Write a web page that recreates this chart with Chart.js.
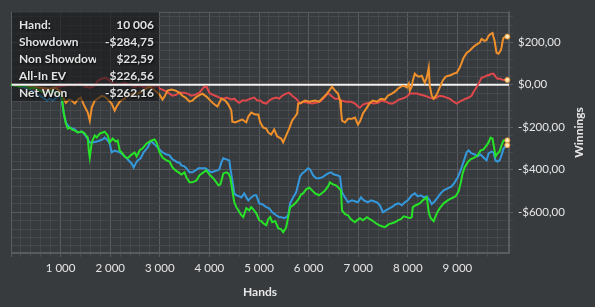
<!DOCTYPE html>
<html>
<head>
<meta charset="utf-8">
<script src="https://cdn.jsdelivr.net/npm/chart.js@4.4.1/dist/chart.umd.min.js"></script>
<style>
  html, body { margin: 0; padding: 0; background: #383b3e; }
  #wrap { width: 595px; height: 307px; }
</style>
</head>
<body>
<div id="wrap"><canvas id="chart" width="595" height="307"></canvas></div>
<script>
// hands / winnings
const netWonHands = [0,181,281,382,442,583,683,784,884,985,1025,1065,1106,1146,1186,1226,1286,1347,1427,1487,1528,1548,1568,1588,1628,1688,1729,1789,1849,1889,1950,1990,2050,2111,2151,2191,2231,2291,2352,2412,2492,2533,2593,2653,2734,2794,2834,2894,2935,2995,3055,3136,3196,3256,3317,3377,3437,3497,3538,3598,3658,3739,3799,3879,3940,4000,4080,4141,4181,4221,4281,4342,4382,4422,4462,4502,4543,4583,4643,4683,4744,4804,4844,4884,4945,5005,5045,5085,5146,5186,5226,5266,5327,5387,5447,5487,5528,5548,5588,5628,5688,5749,5809,5849,5889,5950,6010,6070,6131,6211,6291,6332,6392,6432,6492,6553,6613,6653,6673,6734,6794,6854,6935,6975,7035,7095,7176,7236,7276,7357,7417,7477,7538,7618,7678,7739,7799,7859,7919,7980,8040,8080,8100,8161,8241,8301,8382,8422,8462,8522,8583,8643,8723,8804,8884,8965,9025,9065,9105,9146,9206,9266,9347,9407,9467,9527,9588,9628,9668,9708,9749,9769,9809,9849,9889,9929,10006];
const netWonValues = [0,-9,-5,-19,-14,-28,-38,-28,-38,-42,-61,-136,-183,-207,-202,-211,-216,-225,-221,-230,-244,-249,-310,-343,-272,-239,-249,-230,-225,-221,-239,-272,-254,-268,-263,-310,-319,-338,-347,-333,-319,-338,-310,-300,-277,-268,-263,-258,-272,-319,-343,-357,-362,-390,-404,-413,-423,-413,-437,-460,-460,-451,-427,-413,-404,-423,-441,-460,-474,-470,-418,-413,-418,-437,-498,-554,-577,-592,-615,-624,-582,-592,-577,-587,-606,-639,-643,-653,-662,-634,-624,-648,-643,-676,-681,-695,-681,-671,-624,-577,-568,-554,-535,-516,-512,-493,-484,-498,-512,-521,-507,-498,-479,-460,-470,-474,-488,-498,-592,-610,-615,-634,-648,-639,-629,-639,-624,-634,-639,-653,-662,-667,-671,-657,-653,-648,-639,-634,-620,-624,-629,-624,-577,-568,-559,-545,-531,-601,-629,-643,-606,-582,-559,-545,-535,-526,-502,-465,-418,-390,-366,-352,-343,-333,-310,-305,-286,-272,-249,-254,-310,-338,-324,-315,-286,-263,-262.16];

const showdownHands = [0,181,281,382,482,583,643,724,784,844,925,985,1025,1065,1106,1146,1186,1286,1347,1427,1487,1588,1648,1729,1789,1849,1889,1950,1990,2030,2090,2151,2231,2291,2332,2392,2432,2472,2513,2553,2613,2673,2754,2814,2854,2915,2995,3055,3136,3196,3256,3296,3357,3397,3437,3497,3538,3598,3658,3719,3779,3839,3920,3980,4040,4100,4161,4201,4241,4281,4342,4402,4422,4462,4502,4543,4603,4643,4703,4744,4784,4844,4904,4945,5005,5065,5146,5206,5266,5347,5407,5447,5507,5548,5588,5628,5688,5749,5789,5829,5869,5930,5990,6030,6090,6151,6211,6271,6332,6392,6452,6512,6573,6633,6673,6734,6794,6874,6935,6995,7055,7115,7196,7256,7316,7377,7437,7497,7558,7638,7698,7759,7819,7879,7940,8000,8080,8141,8201,8261,8321,8382,8442,8482,8543,8603,8663,8723,8804,8884,8945,9005,9065,9105,9146,9186,9226,9286,9347,9407,9467,9527,9588,9628,9688,9728,9769,9809,9849,9889,9929,10006];
const showdownValues = [0,-9,-14,-19,-38,-52,-61,-75,-66,-75,-61,-56,-75,-136,-178,-192,-202,-211,-225,-221,-235,-272,-272,-268,-263,-258,-249,-263,-277,-319,-310,-315,-324,-338,-347,-362,-371,-390,-371,-357,-347,-319,-296,-268,-272,-286,-305,-319,-329,-333,-352,-357,-366,-366,-380,-385,-394,-413,-413,-404,-394,-394,-394,-404,-413,-408,-404,-399,-366,-347,-352,-357,-394,-451,-512,-521,-526,-531,-512,-531,-545,-531,-521,-521,-559,-563,-577,-582,-601,-615,-624,-624,-629,-624,-615,-559,-531,-507,-470,-432,-418,-408,-394,-399,-427,-441,-441,-437,-427,-418,-413,-423,-427,-432,-507,-531,-554,-545,-549,-554,-531,-545,-554,-545,-549,-554,-568,-601,-592,-582,-573,-563,-559,-568,-554,-545,-521,-512,-526,-521,-531,-526,-545,-563,-549,-531,-512,-498,-488,-479,-460,-437,-404,-376,-347,-319,-310,-324,-329,-338,-329,-343,-357,-324,-315,-319,-357,-362,-357,-333,-300,-284.75];

const allInEvHands = [0,181,382,583,784,884,985,1025,1065,1106,1166,1226,1286,1347,1407,1467,1508,1548,1588,1628,1688,1749,1829,1889,1950,2030,2090,2131,2191,2251,2352,2452,2553,2633,2693,2794,2854,2935,2995,3055,3095,3156,3236,3317,3397,3457,3518,3598,3658,3719,3779,3859,3940,4020,4080,4161,4241,4322,4382,4442,4462,4523,4603,4663,4744,4784,4844,4925,4985,5025,5085,5146,5186,5246,5306,5367,5447,5487,5548,5608,5668,5729,5769,5789,5849,5930,6010,6131,6211,6291,6372,6432,6472,6533,6593,6633,6653,6673,6734,6794,6874,6935,6995,7035,7095,7176,7236,7296,7377,7457,7538,7598,7678,7739,7799,7859,7919,7980,8020,8040,8080,8100,8141,8181,8221,8281,8342,8382,8422,8442,8482,8522,8583,8643,8703,8764,8824,8884,8924,8985,9045,9085,9125,9186,9246,9306,9347,9407,9447,9487,9548,9588,9628,9668,9708,9728,9749,9769,9789,9829,9869,9889,9909,9929,10006];
const allInEvValues = [0,-5,-9,-14,-19,-14,-28,-42,-66,-85,-70,-75,-89,-70,-61,-94,-113,-131,-169,-108,-75,-66,-52,-56,-70,-89,-122,-103,-80,-70,-56,-42,-42,-33,-23,-9,-19,-33,-47,-70,-56,-28,-23,-28,-38,-52,-61,-80,-75,-61,-52,-42,-56,-75,-89,-103,-66,-75,-94,-122,-174,-178,-169,-164,-178,-150,-131,-141,-141,-178,-202,-207,-225,-235,-211,-244,-254,-272,-239,-207,-169,-150,-136,-89,-85,-75,-80,-75,-80,-61,-42,-23,-9,-28,-42,-75,-122,-169,-178,-160,-160,-155,-188,-174,-136,-108,-85,-75,-80,-66,-70,-52,-42,-33,-19,-9,-5,-14,5,-28,-9,19,52,42,38,42,9,33,80,-5,-52,-66,-47,-14,19,38,42,47,52,56,80,103,127,150,160,174,183,192,197,216,207,211,230,239,244,225,207,178,150,146,160,174,202,221,226.56];

const nonShowdownHands = [0,181,382,583,784,985,1085,1186,1286,1387,1487,1588,1688,1749,1829,1910,1990,2090,2191,2291,2392,2492,2593,2693,2794,2894,2955,2995,3055,3136,3196,3256,3337,3397,3497,3558,3638,3719,3799,3879,3940,4000,4060,4121,4201,4281,4342,4442,4502,4563,4603,4663,4744,4824,4904,4965,5025,5085,5146,5206,5266,5347,5407,5467,5548,5608,5668,5749,5829,5889,5990,6070,6151,6231,6291,6352,6392,6452,6533,6593,6673,6754,6854,6935,6995,7035,7095,7156,7236,7316,7397,7477,7558,7638,7698,7759,7819,7879,7940,8000,8040,8120,8181,8261,8342,8442,8522,8583,8643,8723,8784,8844,8924,8985,9045,9085,9166,9226,9286,9326,9367,9427,9487,9548,9588,9648,9688,9728,9769,9809,9869,9909,10006];
const nonShowdownValues = [0,-9,-19,-28,-19,-9,-5,0,-5,5,-9,-14,-5,19,28,33,19,5,0,9,0,-9,-5,-14,-5,-9,-5,-19,-23,-33,-42,-52,-47,-38,-38,-42,-52,-47,-38,-14,-9,-38,-47,-52,-61,-66,-61,-70,-66,-80,-85,-75,-75,-66,-61,-75,-75,-85,-89,-75,-66,-61,-66,-52,-42,-38,-52,-66,-89,-80,-85,-89,-85,-80,-66,-52,-38,-52,-66,-66,-75,-80,-80,-89,-103,-108,-94,-89,-85,-89,-85,-75,-80,-89,-89,-80,-70,-66,-61,-52,-42,-42,-42,-47,-52,-61,-66,-61,-52,-56,-61,-66,-80,-89,-80,-75,-66,-61,-52,-33,-19,5,33,38,42,47,52,52,38,28,28,23,22.59];

// summary box
const summaryLabels = ["Hand:", "Showdown", "Non Showdown", "All-In EV", "Net Won"];
const summaryHand = 10006;
const summaryValues = [-284.75, 22.59, 226.56, -262.16];

// axis ticks
const handLabelTicks = [1000, 2000, 3000, 4000, 5000, 6000, 7000, 8000, 9000];
const moneyLabelTicks = [200, 0, -200, -400, -600];
const handMinorStep = 200;
const moneyMinorStep = 40;

const BG = "#383b3e";
const GRID_MINOR = "#45484c";
const GRID_MAJOR = "#585b5f";
const TEXT = "#e6e6e6";

function fmtHands(v) {
  return String(v).replace(/\B(?=(\d{3})+(?!\d))/g, " ");
}
function fmtMoney(v) {
  const s = "$" + Math.abs(v).toFixed(2).replace(".", ",");
  return v < 0 ? "-" + s : s;
}

function series(label, hands, values, color, order) {
  const last = hands.length - 1;
  return {
    label,
    data: hands.map((h, i) => ({ x: h, y: values[i] })),
    borderColor: color,
    borderWidth: 2,
    tension: 0,
    order,
    pointRadius: (ctx) => (ctx.dataIndex === last ? 2.5 : 0),
    pointBackgroundColor: "#fbe6b4",
    pointBorderColor: "#e8993a",
    pointBorderWidth: 1,
    clip: 6,
  };
}

const overlay = {
  id: "overlay",
  beforeDatasetsDraw(chart) {
    const { ctx, chartArea: a, scales } = chart;
    ctx.save();
    ctx.strokeStyle = GRID_MAJOR;
    ctx.lineWidth = 1;
    ctx.strokeRect(a.left + 0.5, a.top + 0.5, a.right - a.left - 1, a.bottom - a.top - 1);
    const y0 = scales.y.getPixelForValue(0);
    ctx.strokeStyle = "#f2f2f2";
    ctx.lineWidth = 2;
    ctx.beginPath();
    ctx.moveTo(a.left, y0);
    ctx.lineTo(a.right, y0);
    ctx.stroke();
    ctx.restore();
  },
  afterDatasetsDraw(chart) {
    const { ctx, scales } = chart;
    const bx = 12, by = 12, bw = 147, bh = 89;
    ctx.save();
    ctx.fillStyle = "rgba(22,23,25,0.6)";
    ctx.fillRect(bx, by, bw, bh);
    const y0 = scales.y.getPixelForValue(0);
    ctx.strokeStyle = "#f2f2f2";
    ctx.lineWidth = 2;
    ctx.beginPath();
    ctx.moveTo(bx, y0);
    ctx.lineTo(bx + bw, y0);
    ctx.stroke();

    const rows = [25, 42.5, 59.5, 76.5, 93];
    const vals = [fmtHands(summaryHand)].concat(summaryValues.map(fmtMoney));
    ctx.font = "bold 12px Lato, 'Open Sans', sans-serif";
    ctx.textBaseline = "middle";
    ctx.fillStyle = "#e2e2e2";
    ctx.shadowColor = "rgba(0,0,0,0.85)";
    ctx.shadowBlur = 2;
    ctx.shadowOffsetX = 1;
    ctx.shadowOffsetY = 1;
    ctx.save();
    ctx.beginPath();
    ctx.rect(bx, by, 84, bh);
    ctx.clip();
    ctx.textAlign = "left";
    summaryLabels.forEach((t, i) => ctx.fillText(t, 19, rows[i]));
    ctx.restore();
    ctx.textAlign = "right";
    vals.forEach((t, i) => ctx.fillText(t, 154, rows[i]));
    ctx.restore();
  },
  afterDraw(chart) {
    const { ctx, chartArea: a } = chart;
    ctx.save();
    ctx.translate(579, (a.top + a.bottom) / 2);
    ctx.rotate(-Math.PI / 2);
    ctx.font = "bold 12px Lato, 'Open Sans', sans-serif";
    ctx.fillStyle = TEXT;
    ctx.textAlign = "center";
    ctx.textBaseline = "middle";
    ctx.fillText("Winnings", 0, 0);
    ctx.restore();
  },
};

const bgPlugin = {
  id: "bg",
  beforeDraw(chart) {
    const { ctx, width, height } = chart;
    ctx.save();
    ctx.fillStyle = BG;
    ctx.fillRect(0, 0, width, height);
    ctx.restore();
  },
};

function gridColor(isMajor) {
  return (ctx) => {
    if (!ctx.tick) return GRID_MINOR;
    return isMajor(ctx.tick.value) ? GRID_MAJOR : GRID_MINOR;
  };
}

new Chart(document.getElementById("chart"), {
  type: "line",
  data: {
    datasets: [
      series("Net Won", netWonHands, netWonValues, "#27e327", 0),
      series("All-In EV", allInEvHands, allInEvValues, "#f0902b", 1),
      series("Showdown", showdownHands, showdownValues, "#3499dc", 2),
      series("Non Showdown", nonShowdownHands, nonShowdownValues, "#e0474a", 3),
    ],
  },
  options: {
    responsive: false,
    animation: false,
    devicePixelRatio: 1,
    layout: { padding: { left: 11, top: 11, right: 0, bottom: 0 }, autoPadding: false },
    plugins: { legend: { display: false }, tooltip: { enabled: false } },
    scales: {
      x: {
        type: "linear",
        min: 0,
        max: 10040,
        afterBuildTicks: (scale) => {
          const t = [];
          for (let v = 0; v < 10000; v += handMinorStep) t.push({ value: v });
          scale.ticks = t;
        },
        afterFit: (scale) => { scale.height = 54; },
        ticks: {
          autoSkip: false,
          maxRotation: 0,
          padding: 4,
          color: TEXT,
          font: { family: "Lato, 'Open Sans', sans-serif", size: 11.5 },
          callback: (v) => (handLabelTicks.includes(v) ? fmtHands(v) : ""),
        },
        grid: {
          color: gridColor((v) => v % 1000 === 0),
          tickColor: gridColor((v) => v % 1000 === 0),
          tickLength: 4,
          lineWidth: 1,
        },
        border: { display: true, color: GRID_MAJOR },
        title: {
          display: true,
          text: "Hands",
          color: TEXT,
          font: { family: "Lato, 'Open Sans', sans-serif", size: 12, weight: "bold" },
          padding: { top: 0, bottom: 8 },
        },
      },
      y: {
        type: "linear",
        position: "right",
        min: -793,
        max: 343,
        afterBuildTicks: (scale) => {
          const t = [];
          for (let v = -760; v <= 320; v += moneyMinorStep) t.push({ value: v });
          scale.ticks = t;
        },
        afterFit: (scale) => { scale.width = 86; },
        ticks: {
          autoSkip: false,
          padding: 5,
          color: TEXT,
          font: { family: "Lato, 'Open Sans', sans-serif", size: 11.5 },
          callback: (v) => (moneyLabelTicks.includes(v) ? fmtMoney(v) : ""),
        },
        grid: {
          color: gridColor((v) => v % 200 === 0),
          tickColor: gridColor((v) => v % 200 === 0),
          tickLength: 4,
          lineWidth: 1,
        },
        border: { display: true, color: GRID_MAJOR },
      },
    },
  },
  plugins: [bgPlugin, overlay],
});
</script>
</body>
</html>
